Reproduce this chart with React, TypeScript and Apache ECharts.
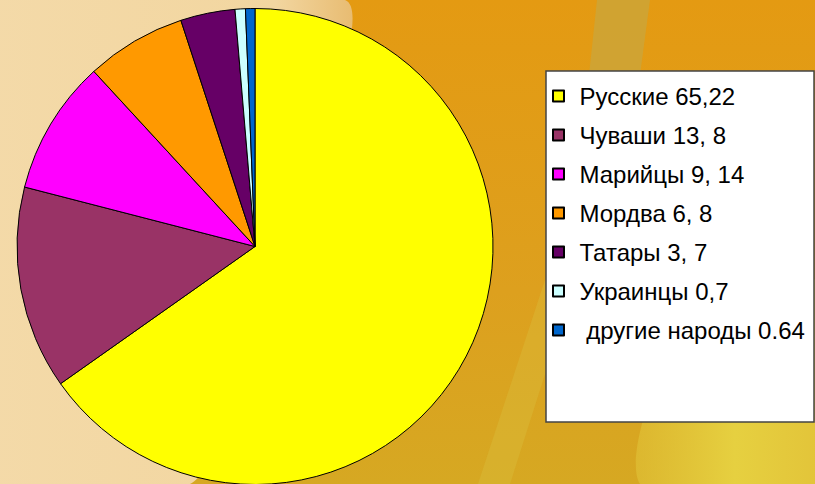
import React, { useEffect, useRef } from 'react';
import * as echarts from 'echarts';

const categories = [
  'Русские 65,22',
  'Чуваши 13, 8',
  'Марийцы 9, 14',
  'Мордва 6, 8',
  'Татары 3, 7',
  'Украинцы 0,7',
  ' другие народы 0.64',
];
const values = [65.22, 13.8, 9.14, 6.8, 3.7, 0.7, 0.64];
const sliceColors = ['#FFFF00', '#993366', '#FF00FF', '#FF9900', '#660066', '#CCFFFF', '#0066CC'];

export default function App() {
  const ref = useRef<HTMLDivElement>(null);
  useEffect(() => {
    document.body.style.margin = '0';
    const chart = echarts.init(ref.current!, null, { renderer: 'svg' });
    const data = categories.map((name, i) => ({
      name,
      value: values[i],
      itemStyle: { color: sliceColors[i] },
    }));
    chart.setOption({
      animation: false,
      graphic: [
        {
          type: 'rect',
          z: -10,
          shape: { x: 0, y: 0, width: 815, height: 484 },
          style: {
            fill: new echarts.graphic.LinearGradient(0, 0, 0, 1, [
              { offset: 0, color: '#E49A12' },
              { offset: 0.6, color: '#DDA01E' },
              { offset: 1, color: '#D6A822' },
            ]),
          },
        },
        {
          type: 'polygon',
          z: -9,
          shape: { points: [[640, 484], [700, 300], [815, 280], [815, 484]], smooth: 0.3 },
          style: {
            fill: new echarts.graphic.LinearGradient(0, 0, 1, 0, [
              { offset: 0, color: 'rgba(226,200,60,0.5)' },
              { offset: 0.5, color: '#E6D040' },
              { offset: 1, color: '#E2C238' },
            ]),
          },
        },
        {
          type: 'polygon',
          z: -9,
          shape: { points: [[478, 484], [545, 280], [575, 280], [510, 484]] },
          style: { fill: 'rgba(220,200,70,0.3)' },
        },
        {
          type: 'polygon',
          z: -9,
          shape: { points: [[597, 0], [650, 0], [640, 75], [589, 75]] },
          style: { fill: 'rgba(205,165,55,0.85)' },
        },
        {
          type: 'polygon',
          z: -8,
          shape: {
            points: [[0, 0], [345, 0], [330, 120], [290, 260], [240, 380], [190, 484], [0, 484]],
            smooth: 0.25,
          },
          style: {
            fill: new echarts.graphic.LinearGradient(0, 0, 1, 0, [
              { offset: 0, color: '#F4DAA9' },
              { offset: 0.8, color: '#F2D6A0' },
              { offset: 1, color: '#E8BC72' },
            ]),
          },
        },
        {
          type: 'rect',
          z: 1,
          shape: { x: 546, y: 71, width: 268, height: 351 },
          style: { fill: '#FFFFFF', stroke: '#444444', lineWidth: 1.5 },
        },
      ],
      legend: {
        orient: 'vertical',
        left: 552,
        top: 83,
        padding: 0,
        itemWidth: 32,
        itemHeight: 11,
        itemGap: 13,
        icon: 'path://M0,0L11,0L11,11L0,11Z',
        selectedMode: false,
        data: categories,
        textStyle: {
          fontFamily: '"Liberation Sans", Arial, sans-serif',
          fontSize: 24,
          lineHeight: 26,
          color: '#000000',
        },
        z: 5,
      },
      series: [
        {
          type: 'pie',
          center: [255, 246.5],
          radius: 238,
          startAngle: 90,
          clockwise: true,
          label: { show: false },
          labelLine: { show: false },
          emphasis: { disabled: true },
          itemStyle: { borderColor: '#000000', borderWidth: 1 },
          data,
          z: 3,
        },
      ],
    });
    return () => chart.dispose();
  }, []);
  return <div ref={ref} style={{ width: 815, height: 484 }} />;
}
